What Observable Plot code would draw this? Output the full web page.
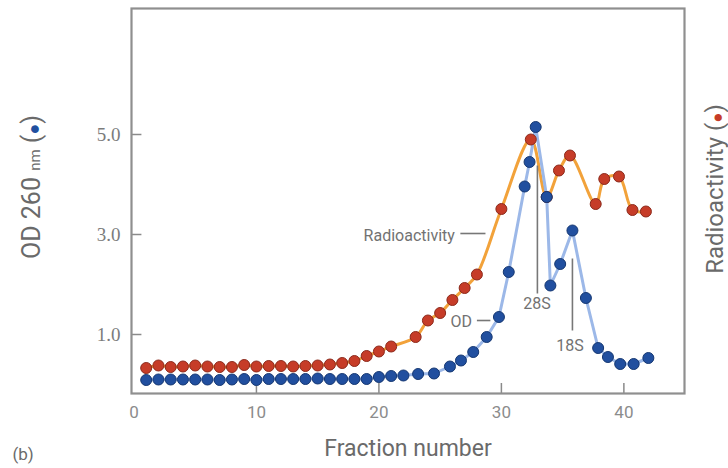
<!DOCTYPE html>
<html>
<head>
<meta charset="utf-8">
<script src="https://cdn.jsdelivr.net/npm/d3@7"></script>
<script src="https://cdn.jsdelivr.net/npm/@observablehq/plot@0.6"></script>
<style>
  html, body { margin: 0; padding: 0; background: #ffffff; }
  #chart { width: 728px; height: 468px; overflow: hidden; }
</style>
</head>
<body>
<div id="chart"></div>
<script>
// ---- Data ----
// OD 260 nm (blue dots), by fraction number
const odFractions = [1,2,3,4,5,6,7,8,9,10,11,12,13,14,15,16,17,18,19,20,21,22,
  23.2,24.5,25.8,26.7,27.7,28.8,29.8,30.6,31.9,32.3,32.8,33.7,34.0,34.8,35.8,36.9,37.9,38.7,39.7,40.8,42.0];
const odValues = [0.09,0.10,0.10,0.10,0.10,0.10,0.09,0.10,0.11,0.09,0.11,0.11,0.11,0.11,0.12,0.11,0.11,0.11,0.11,0.15,0.17,0.18,
  0.21,0.22,0.36,0.48,0.65,0.95,1.35,2.25,3.96,4.45,5.15,3.75,1.98,2.41,3.08,1.73,0.73,0.55,0.41,0.41,0.53];

// Radioactivity (red dots), plotted against the same frame
const radFractions = [1,2,3,4,5,6,7,8,9,10,11,12,13,14,15,16,17,18,19,20,21,
  23,24,25,26,27,28,30,32.4,33.7,34.7,35.6,37.7,38.4,39.6,40.7,41.8];
const radValues = [0.33,0.38,0.35,0.36,0.38,0.36,0.35,0.35,0.39,0.36,0.37,0.37,0.36,0.37,0.38,0.40,0.43,0.47,0.57,0.66,0.76,
  0.95,1.28,1.43,1.69,1.93,2.20,3.51,4.90,3.75,4.28,4.58,3.61,4.11,4.16,3.49,3.46];

// Axis ticks
const xTicks = [0, 10, 20, 30, 40];
const yTicks = [1.0, 3.0, 5.0];

// Annotations (data units)
const annoEndTexts = [
  {label: "Radioactivity", x: 26.2, y: 2.98},
  {label: "OD", x: 27.6, y: 1.25}
];
const annoMidTexts = [
  {label: "28S", x: 32.9, y: 1.62},
  {label: "18S", x: 35.6, y: 0.78}
];
const annoLinks = [
  {x1: 26.65, x2: 28.7, y1: 3.02, y2: 3.02},
  {x1: 28.0, x2: 29.1, y1: 1.28, y2: 1.28},
  {x1: 32.94, x2: 32.94, y1: 4.38, y2: 1.82},
  {x1: 35.8, x2: 35.8, y1: 2.52, y2: 1.08}
];

// ---- Build tables ----
const od = odFractions.map((f, i) => ({fraction: f, value: odValues[i]}));
const rad = radFractions.map((f, i) => ({fraction: f, value: radValues[i]}));

const xMin = -0.2, xMax = 44.95;
const yMin = -0.18, yMax = 7.52;

const gray = "#8a8a8a";
const textGray = "#727272";

const chart = Plot.plot({
  width: 728,
  height: 468,
  marginLeft: 131,
  marginRight: 44,
  marginTop: 8,
  marginBottom: 75,
  style: {background: "#ffffff", fontFamily: "Roboto, 'Noto Sans', sans-serif", overflow: "visible"},
  x: {domain: [xMin, xMax]},
  y: {domain: [yMin, yMax]},
  marks: [
    Plot.axisX(xTicks, {tickSize: 0, tickPadding: 12, fontSize: 17, color: "#8c8c8c", label: null}),
    Plot.axisY(yTicks, {tickSize: 0, tickPadding: 11, tickFormat: d3.format(".1f"), fontSize: 19,
      fontFamily: "'Liberation Serif', 'DejaVu Serif', serif", color: "#7c7c7c", label: null}),
    Plot.ruleX(xTicks.filter(d => d > 0), {x: d => d, y1: yMin, y2: yMin + 0.2, stroke: gray, strokeWidth: 1.5}),
    Plot.ruleY(yTicks, {y: d => d, x1: xMin, x2: xMin + 0.85, stroke: gray, strokeWidth: 1.5}),
    Plot.frame({stroke: "#8f8f8f", strokeWidth: 2.2}),

    // lines
    Plot.line(rad, {x: "fraction", y: "value", curve: "catmull-rom", stroke: "#f2a23a", strokeWidth: 3}),
    Plot.line(od, {x: "fraction", y: "value", curve: "linear", stroke: "#9cb8e8", strokeWidth: 3}),

    // dots
    Plot.dot(rad, {x: "fraction", y: "value", r: 5.5, fill: "#c63c28", stroke: "#8c2a1c", strokeWidth: 1}),
    Plot.dot(od, {x: "fraction", y: "value", r: 5.5, fill: "#214f9f", stroke: "#163872", strokeWidth: 1}),

    // annotations
    Plot.link(annoLinks, {x1: "x1", x2: "x2", y1: "y1", y2: "y2", stroke: "#777", strokeWidth: 1.6}),
    Plot.text(annoEndTexts, {x: "x", y: "y", text: "label", textAnchor: "end", fontSize: 16, fill: textGray}),
    Plot.text(annoMidTexts, {x: "x", y: "y", text: "label", textAnchor: "middle", fontSize: 16, fill: textGray}),

    // axis titles
    Plot.text(["Fraction number"], {frameAnchor: "bottom", dy: 62, fontSize: 23, fill: "#6a6a6a"}),
    Plot.text(["OD 260 nm (●)"], {frameAnchor: "left", textAnchor: "middle", dx: -100, dy: -14, rotate: -90,
      fontSize: 25, fill: "#6a6a6a", className: "lab-od"}),
    Plot.text(["Radioactivity (●)"], {frameAnchor: "right", textAnchor: "middle", dx: 31, dy: -12, rotate: -90,
      fontSize: 24, fill: "#6a6a6a", className: "lab-rad"}),
    Plot.text(["(b)"], {frameAnchor: "bottom-left", dx: -119, dy: 66, fontSize: 17, fill: "#6a6a6a"})
  ]
});

// Style the rotated labels: smaller "nm", coloured dot markers
const odText = d3.select(chart).select("g.lab-od text");
odText.text(null);
odText.append("tspan").text("OD 260 ");
odText.append("tspan").attr("font-size", 15).text("nm");
odText.append("tspan").text(" (");
odText.append("tspan").attr("fill", "#214f9f").attr("font-size", 18).text("●");
odText.append("tspan").text(")");

const radText = d3.select(chart).select("g.lab-rad text");
radText.text(null);
radText.append("tspan").text("Radioactivity (");
radText.append("tspan").attr("fill", "#c63c28").attr("font-size", 17).text("●");
radText.append("tspan").text(")");

document.getElementById("chart").appendChild(chart);
</script>
</body>
</html>
